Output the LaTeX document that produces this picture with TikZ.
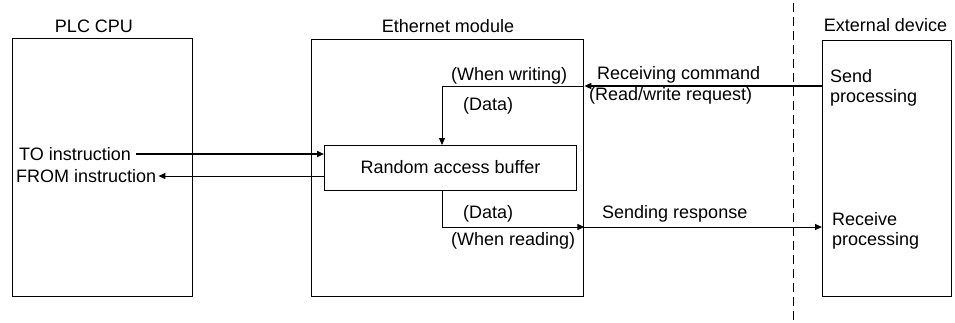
\documentclass[tikz,border=0pt]{standalone}
\usepackage{fontspec}
\setmainfont{Liberation Sans}
\usetikzlibrary{arrows.meta}
\begin{document}
\begin{tikzpicture}[x=1pt,y=-1pt,
  every node/.style={font=\fontsize{18}{21}\selectfont, inner sep=0pt},
  box/.style={draw, line width=1.4pt, anchor=north west},
  lbl/.style={anchor=base west},
  ttl/.style={anchor=base},
  tri/.style={-{Triangle[length=7pt,width=6pt]}},
  thinline/.style={line width=1pt},
  boldline/.style={line width=1.9pt},
  sep/.style={line width=0.9pt, dash pattern=on 9pt off 5pt}]
\useasboundingbox (0,0) rectangle (955,322);
% boxes
\node[box, minimum width=180pt, minimum height=258pt] (plc) at (12,38) {};
\node[box, minimum width=272pt, minimum height=257pt] (eth) at (311,39) {};
\node[box, minimum width=129pt, minimum height=256pt] (ext) at (822,40) {};
\node[draw, line width=1.1pt, anchor=north west, minimum width=252pt, minimum height=45pt] (buf) at (324,145) {};
\node (buftxt) at (450.5,167) {Random access buffer};
% titles
\node[ttl] (plct) at (94,32) {PLC CPU};
\node[ttl] (etht) at (448,32) {Ethernet module};
\node[ttl] (extt) at (885.5,31) {External device};
% PLC texts
\node[lbl] (to) at (19,160) {TO instruction};
\node[lbl] (from) at (16,182) {FROM instruction};
% module texts
\node[lbl] (ww) at (451,80.5) {(When writing)};
\node[lbl] (d1) at (463,110) {(Data)};
\node[lbl] (d2) at (463,218) {(Data)};
\node[lbl] (wr) at (451,245) {(When reading)};
% link texts
\node[lbl] (rc) at (597,79) {Receiving command};
\node[lbl] (rw) at (589,100) {(Read/write request)};
\node[lbl] (sr) at (602,218) {Sending response};
% external texts
\node[lbl] (s1) at (830,82.5) {Send};
\node[lbl] (s2) at (830,102.5) {processing};
\node[lbl] (r1) at (832,225) {Receive};
\node[lbl] (r2) at (832,245) {processing};
% helper coordinates
\coordinate (yw) at (0,86);
\coordinate (yr) at (0,227);
\coordinate (xd) at (442,0);
\coordinate (yto) at (0,154);
\coordinate (yfr) at (0,176);
\coordinate (dtop) at (793,3);
\coordinate (dbot) at (793,322);
% connectors
\draw[boldline, tri] (to.east |- yto) ++(5,0) -- (buf.west |- yto);
\draw[thinline, tri] (buf.west |- yfr) -- ([xshift=2pt]from.east |- yfr);
\draw[boldline, tri] (ext.west |- yw) -- (eth.east |- yw);
\draw[thinline, tri] (eth.east |- yw) -| (xd |- buf.north);
\draw[thinline, tri] (xd |- buf.south) |- (eth.east |- yr);
\draw[thinline, tri] (eth.east |- yr) -- (ext.west |- yr);
\draw[sep] (dtop) -- (dbot);
\end{tikzpicture}
\end{document}
